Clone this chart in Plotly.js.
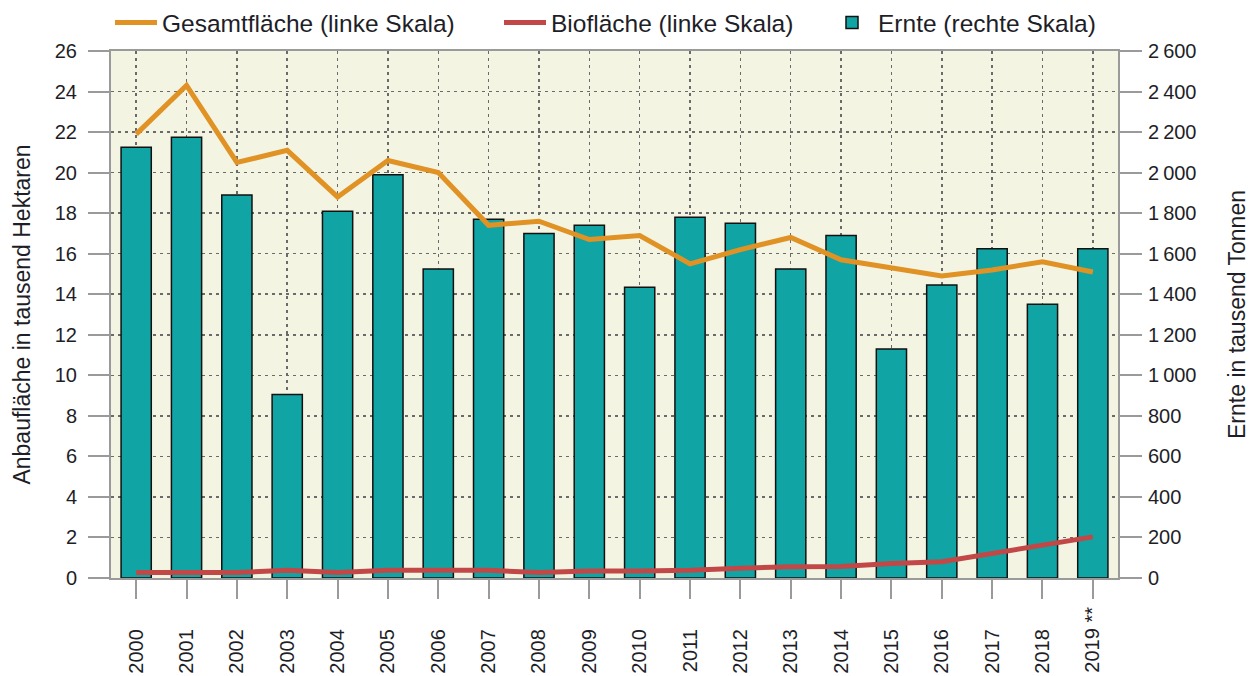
<!DOCTYPE html>
<html>
<head>
<meta charset="utf-8">
<script src="https://cdn.plot.ly/plotly-3.0.1.min.js"></script>
<style>html,body{margin:0;padding:0;background:#fff;}#chart{width:1252px;height:676px;}</style>
</head>
<body>
<div id="chart"></div>
<script>
var years = ['2000','2001','2002','2003','2004','2005','2006','2007','2008','2009','2010','2011','2012','2013','2014','2015','2016','2017','2018','2019'];
var xLabels = ['2000','2001','2002','2003','2004','2005','2006','2007','2008','2009','2010','2011','2012','2013','2014','2015','2016','2017','2018','2019 **'];
var gesamtflaeche = [21.9,24.3,20.5,21.1,18.8,20.6,20.0,17.4,17.6,16.7,16.9,15.5,16.2,16.8,15.7,15.3,14.9,15.2,15.6,15.1];
var bioflaeche = [0.27,0.27,0.27,0.38,0.27,0.38,0.38,0.38,0.27,0.35,0.35,0.38,0.48,0.56,0.57,0.72,0.8,1.2,1.62,2.03];
var ernte = [2125,2175,1890,905,1810,1990,1525,1770,1700,1740,1435,1780,1750,1525,1690,1130,1445,1625,1350,1625];

// pad labels so that all start (bottom) at the same place
var pad = '\u00a0\u00a0\u00a0\u00a0';
var tickText = xLabels.map(function(l){ return l.indexOf('**') >= 0 ? l : l + pad; });

var FONT = 'Liberation Sans, Arial, sans-serif';
var TXT = '#1e1e28';
var AX = '#9a9a9a';
var GRID = '#6a6a6a';

var traces = [
  {type:'bar', x:years, y:ernte, name:'Ernte (rechte Skala)', yaxis:'y', width:0.6,
   marker:{color:'#11A4A4', line:{color:'#111', width:1.5}}, legend:'legend3', hoverinfo:'x+y'},
  {type:'scatter', mode:'lines', x:years, y:gesamtflaeche, name:'Gesamtfläche (linke Skala)', yaxis:'y2',
   line:{color:'#E09225', width:5}, legend:'legend'},
  {type:'scatter', mode:'lines', x:years, y:bioflaeche, name:'Biofläche (linke Skala)', yaxis:'y2',
   line:{color:'#C24848', width:5}, legend:'legend2'}
];

function leg(px){
  return {orientation:'h', x:px/1252, xref:'container', xanchor:'left', y:1.0, yanchor:'top', yref:'container',
          font:{size:24.5, color:TXT}, bgcolor:'rgba(0,0,0,0)', itemwidth:42};
}

var layout = {
  width:1252, height:676,
  margin:{l:111, r:134, t:51, b:98},
  paper_bgcolor:'#ffffff', plot_bgcolor:'#F4F4E2',
  font:{family:FONT, color:TXT, size:20},
  separators:'.\u202f',
  showlegend:true,
  legend:leg(110),
  legend2:leg(499),
  legend3:leg(826),
  bargap:0.4,
  xaxis:{type:'category', tickmode:'array', tickvals:years, ticktext:tickText, tickangle:-90,
         ticks:'outside', ticklen:19, tickwidth:2, tickcolor:AX,
         showline:true, linecolor:AX, linewidth:2, mirror:true,
         showgrid:true, gridcolor:GRID, gridwidth:1.5, griddash:'3px,4px',
         tickfont:{size:20, color:TXT}, zeroline:false, range:[-0.5,19.5]},
  yaxis:{side:'right', range:[0,2600], dtick:200, tick0:0, tickformat:',d',
         ticks:'outside', ticklen:22, tickwidth:2, tickcolor:AX,
         showline:true, linecolor:AX, linewidth:2,
         showgrid:true, gridcolor:GRID, gridwidth:1.5, griddash:'3px,4px', zeroline:false,
         tickfont:{size:20, color:TXT}, ticklabelstandoff:2,
         title:{text:'Ernte in tausend Tonnen', font:{size:23, color:TXT}, standoff:33}},
  yaxis2:{overlaying:'y', side:'left', range:[0,26], dtick:2, tick0:0,
          ticks:'outside', ticklen:21, tickwidth:2, tickcolor:AX,
          showline:true, linecolor:AX, linewidth:2,
          showgrid:false, zeroline:false,
          tickfont:{size:20, color:TXT}, ticklabelstandoff:7,
          title:{text:'Anbaufläche in tausend Hektaren', font:{size:23, color:TXT}, standoff:18}}
};

Plotly.newPlot('chart', traces, layout, {displayModeBar:false, staticPlot:true});
</script>
</body>
</html>
